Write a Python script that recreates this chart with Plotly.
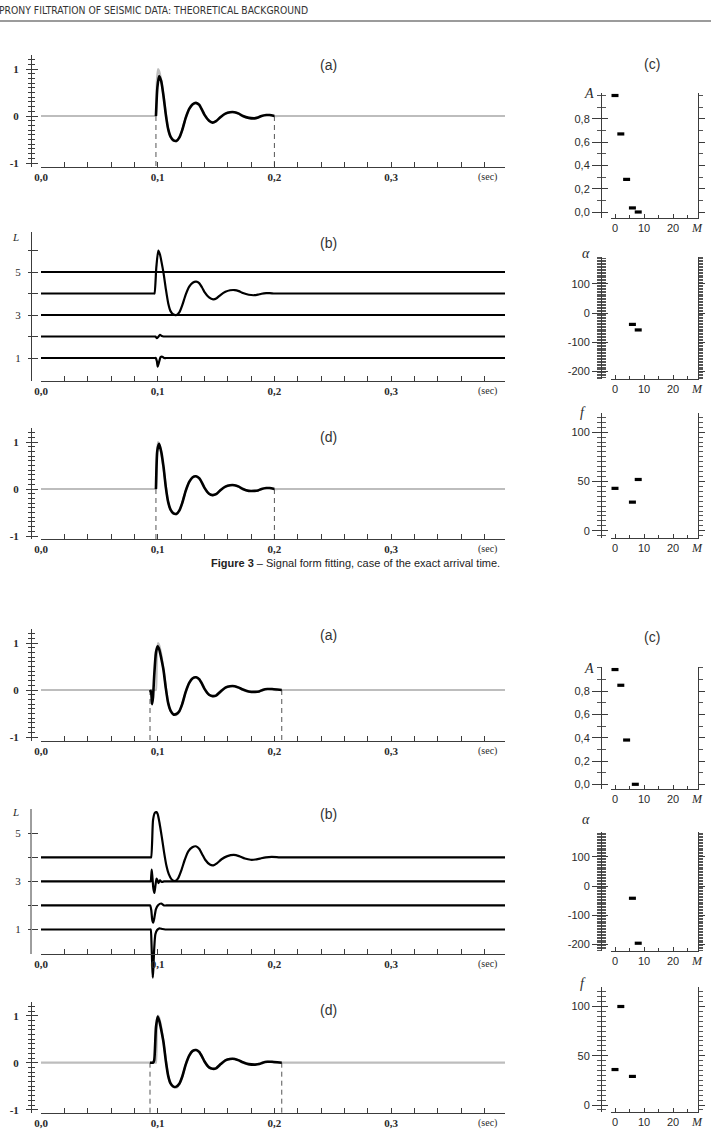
import plotly.graph_objects as go

W, H = 711, 1129

# ---- values ----
X_TICKS = [0.0, 0.1, 0.2, 0.3]
X_TICK_TEXT = ["0,0", "0,1", "0,2", "0,3"]
M_TICKS = [0, 10, 20]
M_TICK_TEXT = ["0", "10", "20"]

# recorded trace (grey), same in every (a) / (d) panel
SRC_T = [0.0, 0.0975, 0.0980, 0.0985, 0.0993, 0.1003, 0.1013, 0.1030, 0.1045, 0.1060,
         0.1075, 0.1090, 0.1110, 0.1135, 0.1160, 0.1185, 0.1210, 0.1240, 0.1270, 0.1300,
         0.1330, 0.1355, 0.1380, 0.1400, 0.1440, 0.1470, 0.1500, 0.1540, 0.1580, 0.1620,
         0.1658, 0.1695, 0.1730, 0.1780, 0.1830, 0.1860, 0.1890, 0.1930, 0.1960, 0.2000,
         0.2050, 0.2500, 0.3000, 0.3500, 0.4000]
SRC_V = [0.0, 0.0, 0.0, 0.0, 0.75, 1.00, 0.95, 0.76, 0.52, 0.25,
         -0.03, -0.28, -0.44, -0.52, -0.53, -0.46, -0.30, -0.04, 0.15, 0.25,
         0.27, 0.23, 0.13, 0.03, -0.10, -0.13, -0.11, -0.02, 0.05, 0.08,
         0.08, 0.05, 0.00, -0.04, -0.04, -0.03, 0.00, 0.02, 0.02, 0.00,
         0.0, 0.0, 0.0, 0.0, 0.0]

# upper figure (Figure 3): exact arrival time
UP_WINDOW = [0.0985, 0.2]
UP_FIT_T = [0.0985, 0.0997, 0.1012, 0.1030, 0.1050, 0.1070, 0.1090, 0.1110, 0.1135, 0.1160,
            0.1185, 0.1210, 0.1240, 0.1270, 0.1300, 0.1328, 0.1355, 0.1380, 0.1400, 0.1440,
            0.1470, 0.1500, 0.1540, 0.1580, 0.1620, 0.1658, 0.1695, 0.1730, 0.1780, 0.1830,
            0.1860, 0.1890, 0.1930, 0.1960, 0.2000]
UP_A_FIT = [0.00, 0.60, 0.85, 0.74, 0.42, 0.02, -0.28, -0.44, -0.52, -0.53,
            -0.46, -0.30, -0.04, 0.15, 0.25, 0.28, 0.24, 0.13, 0.03, -0.10,
            -0.14, -0.11, -0.02, 0.05, 0.08, 0.08, 0.05, 0.00, -0.04, -0.05,
            -0.03, 0.00, 0.02, 0.02, 0.00]
UP_D_FIT = [0.00, 0.82, 0.96, 0.80, 0.47, 0.03, -0.28, -0.44, -0.52, -0.53,
            -0.46, -0.30, -0.04, 0.15, 0.25, 0.27, 0.23, 0.13, 0.03, -0.10,
            -0.13, -0.11, -0.02, 0.05, 0.08, 0.08, 0.05, 0.00, -0.04, -0.04,
            -0.03, 0.00, 0.02, 0.02, 0.00]

UP_B_T = [0.0, 0.0965, 0.0972, 0.0988, 0.1005, 0.1020, 0.1035, 0.1050, 0.1070, 0.1090,
          0.1110, 0.1135, 0.1161, 0.1185, 0.1210, 0.1240, 0.1270, 0.1300, 0.1330, 0.1355,
          0.1380, 0.1400, 0.1440, 0.1475, 0.1505, 0.1540, 0.1580, 0.1620, 0.1660, 0.1695,
          0.1730, 0.1780, 0.1830, 0.1860, 0.1890, 0.1930, 0.1960, 0.2000, 0.2030, 0.4000]
UP_B_L4 = [4.0, 4.0, 4.0, 5.2, 6.0, 5.8, 5.4, 4.95, 4.2, 3.55,
           3.18, 3.02, 3.0, 3.12, 3.45, 3.95, 4.32, 4.50, 4.55, 4.48,
           4.28, 4.08, 3.82, 3.73, 3.78, 3.94, 4.08, 4.15, 4.16, 4.11,
           4.02, 3.94, 3.92, 3.95, 3.99, 4.02, 4.02, 4.0, 4.0, 4.0]
FLAT_T = [0.0, 0.4]
UP_B_L5 = [5, 5]
UP_B_L3 = [3, 3]
UP_B_L2_T = [0.0, 0.0975, 0.0980, 0.0992, 0.1005, 0.1020, 0.1035, 0.1050, 0.1065, 0.4]
UP_B_L2 = [2.0, 2.0, 2.0, 1.92, 1.98, 2.08, 2.02, 2.0, 2.0, 2.0]
UP_B_L1_T = [0.0, 0.0978, 0.0983, 0.0993, 0.1000, 0.1010, 0.1025, 0.1040, 0.1055, 0.1075, 0.4]
UP_B_L1 = [1.0, 1.0, 1.0, 0.85, 0.6, 0.78, 1.04, 1.06, 1.0, 1.0, 1.0]

UP_M_A = [0, 2, 4, 6, 8]
UP_A = [1.0, 0.67, 0.28, 0.035, 0.0]
UP_M_ALPHA = [6, 8]
UP_ALPHA = [-39, -58]
UP_M_F = [0, 6, 8]
UP_F = [43, 29, 52]

# lower figure: window starts before the arrival
LO_WINDOW = [0.0934, 0.2063]
LO_FIT_T = [0.0934, 0.0944, 0.0952, 0.0960, 0.0970, 0.0985, 0.1000, 0.1015, 0.1030, 0.1050,
            0.1070, 0.1090, 0.1110, 0.1135, 0.1160, 0.1185, 0.1210, 0.1240, 0.1270, 0.1300,
            0.1330, 0.1355, 0.1380, 0.1400, 0.1440, 0.1470, 0.1500, 0.1540, 0.1580, 0.1620,
            0.1660, 0.1695, 0.1730, 0.1780, 0.1835, 0.1870, 0.1900, 0.1940, 0.1980, 0.2025,
            0.2063]
LO_A_FIT = [0.00, -0.05, -0.30, -0.15, 0.30, 0.80, 0.93, 0.85, 0.68, 0.42,
            0.03, -0.28, -0.44, -0.52, -0.51, -0.45, -0.30, -0.04, 0.15, 0.25,
            0.27, 0.23, 0.13, 0.03, -0.10, -0.13, -0.12, -0.03, 0.05, 0.08,
            0.08, 0.05, 0.01, -0.03, -0.04, -0.03, 0.00, 0.02, 0.02, 0.01,
            0.00]
LO_D_FIT = [0.00, 0.00, 0.00, 0.00, 0.05, 0.75, 0.98, 0.88, 0.70, 0.43,
            0.03, -0.28, -0.44, -0.51, -0.51, -0.45, -0.30, -0.04, 0.15, 0.25,
            0.27, 0.23, 0.13, 0.03, -0.10, -0.13, -0.12, -0.03, 0.05, 0.08,
            0.08, 0.05, 0.01, -0.03, -0.04, -0.03, 0.00, 0.02, 0.02, 0.01,
            0.00]

LO_B_T = [0.0, 0.0935, 0.0943, 0.0960, 0.0975, 0.0990, 0.1000, 0.1015, 0.1035, 0.1055,
          0.1075, 0.1095, 0.1120, 0.1152, 0.1177, 0.1202, 0.1232, 0.1262, 0.1297, 0.1327,
          0.1357, 0.1382, 0.1407, 0.1447, 0.1477, 0.1507, 0.1547, 0.1597, 0.1652, 0.1697,
          0.1747, 0.1797, 0.1837, 0.1877, 0.1927, 0.1977, 0.2045, 0.2075, 0.4000]
LO_B_L4 = [4.0, 4.0, 4.0, 5.55, 5.85, 5.88, 5.80, 5.45, 4.85, 4.20,
           3.65, 3.30, 3.08, 3.02, 3.15, 3.45, 3.90, 4.25, 4.42, 4.46,
           4.35, 4.12, 3.90, 3.70, 3.67, 3.75, 3.92, 4.05, 4.10, 4.05,
           3.95, 3.90, 3.91, 3.95, 4.00, 4.02, 4.00, 4.00, 4.00]
LO_B_L3_T = [0.0, 0.0935, 0.0940, 0.0945, 0.0949, 0.0955, 0.0963, 0.0972, 0.0981, 0.0990,
             0.0998, 0.1007, 0.1020, 0.1035, 0.1055, 0.1075, 0.4]
LO_B_L3 = [3.0, 3.0, 3.0, 3.25, 3.49, 3.15, 2.7, 2.52, 2.85, 3.12,
           3.05, 2.93, 3.04, 2.98, 3.0, 3.0, 3.0]
LO_B_L2_T = [0.0, 0.0930, 0.0935, 0.0945, 0.0953, 0.0961, 0.0970, 0.0985, 0.1005, 0.1030,
             0.1055, 0.1075, 0.4]
LO_B_L2 = [2.0, 2.0, 2.0, 1.8, 1.4, 1.28, 1.45, 1.85, 2.02, 2.08, 2.0, 2.0, 2.0]
LO_B_L1_T = [0.0, 0.0935, 0.0940, 0.0947, 0.0953, 0.0958, 0.0963, 0.0970, 0.0980, 0.0995,
             0.1015, 0.1040, 0.1065, 0.1085, 0.4]
LO_B_L1 = [1.0, 1.0, 1.0, 0.4, -0.5, -1.0, -0.6, 0.2, 0.8, 0.98,
           1.05, 1.02, 1.0, 1.0, 1.0]

LO_M_A = [0, 2, 4, 7]
LO_A = [0.985, 0.85, 0.38, 0.0]
LO_M_ALPHA = [6, 8]
LO_ALPHA = [-42, -196]
LO_M_F = [0, 2, 6]
LO_F = [36, 100, 29]

HEADER = "PRONY FILTRATION OF SEISMIC DATA: THEORETICAL BACKGROUND"
CAPTION = "<b>Figure 3</b> – Signal form fitting, case of the exact arrival time."

# ---- styling ----
SERIF = "Liberation Serif"
SANS = "Liberation Sans"
NARROW = "DejaVu Sans Condensed, Liberation Sans Narrow, Liberation Sans"
AXC = "#3c3c3c"
TXT = "#2a2a2a"
GREY = "#bdbdbd"
T_RANGE = [0, 0.3976]


def px(x):
    return x / W


def py(y):
    return 1 - y / H


layout = {}
traces = []
annotations = []
shapes = []
counter = {"x": 0, "y": 0}


def next_axis(kind):
    counter[kind] += 1
    n = counter[kind]
    suffix = "" if n == 1 else str(n)
    return kind + suffix, kind + "axis" + suffix


def note(text, x, y, size=11, family=SANS, color=TXT, xanchor="center", xref="paper", yref="paper"):
    annotations.append(dict(text=text, x=x, y=y, xref=xref, yref=yref, showarrow=False,
                            xanchor=xanchor, yanchor="middle",
                            font=dict(family=family, size=size, color=color)))


def wave_panel(top, bot, ref_px, ref_val, ppu, yvals, ytext, major_len, minor_dtick, bold, axis_px=None):
    xr, xname = next_axis("x")
    yr, yname = next_axis("y")
    yo, yoname = next_axis("y")
    vtop = ref_val + (ref_px - top) / ppu
    vbot = ref_val - (bot - ref_px) / ppu
    free = axis_px is not None
    axis_px = bot if axis_px is None else axis_px
    vaxis = ref_val - (axis_px - ref_px) / ppu
    layout[xname] = dict(
        domain=[px(41), px(505)], range=T_RANGE, automargin=False,
        anchor="free" if free else yr, position=py(axis_px) if free else 0,
        showline=True, linecolor=AXC, linewidth=1,
        ticks="inside", ticklen=5, tickcolor=AXC,
        tickvals=X_TICKS, ticktext=X_TICK_TEXT,
        tickfont=dict(family=SERIF, size=11, color=TXT, weight="bold"),
        minor=dict(tickmode="linear", tick0=0, dtick=0.02, ticks="inside", ticklen=5, tickcolor=AXC),
        showgrid=False, zeroline=False,
    )
    minor_out = dict(tickmode="linear", tick0=0, dtick=minor_dtick, ticks="outside",
                     ticklen=3, tickcolor=AXC) if minor_dtick else dict(ticks="")
    minor_in = dict(tickmode="linear", tick0=0, dtick=minor_dtick, ticks="inside",
                    ticklen=3, tickcolor=AXC) if minor_dtick else dict(ticks="")
    layout[yname] = dict(
        domain=[py(bot), py(top)], range=[vbot, vtop], automargin=False,
        anchor="free", position=px(31),
        showline=not free, linecolor=AXC, linewidth=1,
        ticks="outside", ticklen=major_len[0], tickcolor=AXC,
        tickvals=yvals, ticktext=ytext, ticklabelstandoff=5,
        tickfont=dict(family=SERIF, size=11, color=TXT, weight="bold" if bold else "normal"),
        minor=minor_out, showgrid=False, zeroline=False,
    )
    layout[yoname] = dict(
        overlaying=yr, range=[vbot, vtop], anchor="free", position=px(31), automargin=False,
        showline=False, ticks="inside", ticklen=major_len[1], tickcolor=AXC,
        tickvals=yvals, showticklabels=False,
        minor=minor_in, showgrid=False, zeroline=False,
    )
    if free:
        shapes.append(dict(type="line", xref="paper", yref=yr, x0=px(31), x1=px(31),
                           y0=vaxis, y1=vtop, line=dict(color=AXC, width=1)))
    note("(sec)", 0.383, py(axis_px + 10), size=10, family=SERIF, xref=xr)
    return xr, yr, yo, vaxis


def param_panel(top, bot, ref_px, ref_val, ppu, yvals, ytext, minor_dtick, minor_w, axis_px):
    xr, xname = next_axis("x")
    yr, yname = next_axis("y")
    yo, yoname = next_axis("y")
    yrr, yrname = next_axis("y")
    vtop = ref_val + (ref_px - top) / ppu
    vbot = ref_val - (bot - ref_px) / ppu
    layout[xname] = dict(
        domain=[px(611), px(698)], range=[-1.38, 28.6], anchor=yr, automargin=False,
        showline=True, linecolor=AXC, linewidth=1,
        ticks="inside", ticklen=4, tickcolor=AXC,
        tickvals=M_TICKS, ticktext=M_TICK_TEXT,
        tickfont=dict(family=SANS, size=11, color=TXT),
        minor=dict(tickmode="linear", tick0=0, dtick=5, ticks="inside", ticklen=3, tickcolor=AXC),
        showgrid=False, zeroline=False,
    )
    common = dict(range=[vbot, vtop], tickvals=yvals, showgrid=False, zeroline=False,
                  tickcolor=AXC, automargin=False)

    def minor(side, length):
        return dict(tickmode="linear", tick0=0, dtick=minor_dtick, ticks=side, ticklen=length,
                    tickcolor="#555555", tickwidth=minor_w)

    layout[yname] = dict(
        domain=[py(bot), py(top)], anchor="free", position=px(601),
        showline=True, linecolor=AXC, linewidth=1,
        ticks="outside", ticklen=9, ticktext=ytext,
        tickfont=dict(family=SANS, size=11, color=TXT),
        minor=minor("outside", 4), **common,
    )
    layout[yoname] = dict(
        overlaying=yr, anchor="free", position=px(601), showline=False,
        ticks="inside", ticklen=6, showticklabels=False,
        minor=minor("inside", 4), **common,
    )
    layout[yrname] = dict(
        overlaying=yr, anchor=xr, side="right", showline=True, linecolor=AXC, linewidth=1,
        ticks="outside", ticklen=6, showticklabels=False,
        minor=minor("outside", 4), **common,
    )
    note("<i>M</i>", px(697), py(axis_px + 10), size=12, family=SERIF)
    return xr, yr, [yo, yrr]


def line(x, y, xr, yr, color="black", width=2.4, dash=None, shape="spline"):
    traces.append(go.Scatter(x=x, y=y, xaxis=xr, yaxis=yr, mode="lines",
                             line=dict(color=color, width=width, dash=dash, shape=shape, smoothing=0.6),
                             hoverinfo="skip"))


def ghost(x, y, xr, yr):
    # keeps overlay axes alive; draws nothing visible
    traces.append(go.Scatter(x=x, y=y, xaxis=xr, yaxis=yr, mode="lines",
                             line=dict(color="rgba(0,0,0,0)", width=0), hoverinfo="skip"))


def dots(x, y, xr, yr):
    traces.append(go.Scatter(x=x, y=y, xaxis=xr, yaxis=yr, mode="markers",
                             marker=dict(symbol="line-ew", size=5, color="black",
                                         line=dict(color="black", width=3.2)),
                             hoverinfo="skip"))


def signal_panel(top, bot, zero_px, fit_t, fit_v, window):
    xr, yr, yo, vaxis = wave_panel(top, bot, zero_px, 0, 47, [-1, 0, 1], ["-1", "0", "1"],
                                   (5, 6), 0.1, True)
    line(SRC_T, SRC_V, xr, yr, color=GREY, width=2.2)
    ghost(SRC_T, SRC_V, xr, yo)
    for w in window:
        traces.append(go.Scatter(x=[w, w], y=[0, vaxis], xaxis=xr, yaxis=yr, mode="lines",
                                 line=dict(color="#555", width=1, dash="5px,4px"), hoverinfo="skip"))
    line(fit_t, fit_v, xr, yr, width=2.6)


def components_panel(top, bot, ref_px, ppu, yvals, ytext, curves, axis_px=None):
    xr, yr, yo, vaxis = wave_panel(top, bot, ref_px, 5, ppu, yvals, ytext, (3, 6), None, False,
                                   axis_px=axis_px)
    ghost(FLAT_T, [5, 5], xr, yo)
    for t, v in curves:
        line(t, v, xr, yr, width=2.2)
    return vaxis


def params(geo, a_data, alpha_data, f_data):
    (a_top, a_bot, a_zero), (al_top, al_bot, al_zero), (f_top, f_bot, f_zero) = geo
    xr, yr, over = param_panel(a_top, a_bot, a_zero, 0, 116.5, [0, 0.2, 0.4, 0.6, 0.8],
                               ["0,0", "0,2", "0,4", "0,6", "0,8"], 0.1, 1, a_bot)
    dots(*a_data, xr, yr)
    for o in over:
        ghost(*a_data, xr, o)
    xr, yr, over = param_panel(al_top, al_bot, al_zero, 0, 0.292, [-200, -100, 0, 100],
                               ["-200", "-100", "0", "100"], 5, 0.6, al_bot)
    dots(*alpha_data, xr, yr)
    for o in over:
        ghost(*alpha_data, xr, o)
    xr, yr, over = param_panel(f_top, f_bot, f_zero, 0, 0.985, [0, 50, 100],
                               ["0", "50", "100"], 5, 1, f_bot)
    dots(*f_data, xr, yr)
    for o in over:
        ghost(*f_data, xr, o)


# ---------- upper figure ----------
signal_panel(55, 167, 116, UP_FIT_T, UP_A_FIT, UP_WINDOW)
components_panel(232, 381, 272, 21.5, [1, 2, 3, 4, 5, 6], ["1", "", "3", "", "5", ""],
                 [(FLAT_T, UP_B_L5), (UP_B_T, UP_B_L4), (FLAT_T, UP_B_L3),
                  (UP_B_L2_T, UP_B_L2), (UP_B_L1_T, UP_B_L1)])
signal_panel(428, 539, 489, UP_FIT_T, UP_D_FIT, UP_WINDOW)
params([(93, 218, 212), (257, 379, 313), (413, 538, 530.7)],
       (UP_M_A, UP_A), (UP_M_ALPHA, UP_ALPHA), (UP_M_F, UP_F))

# ---------- lower figure ----------
signal_panel(629, 741, 690, LO_FIT_T, LO_A_FIT, LO_WINDOW)
components_panel(809, 985, 833.3, 24.05, [1, 2, 3, 4, 5], ["1", "", "3", "", "5"],
                 [(LO_B_T, LO_B_L4), (LO_B_L3_T, LO_B_L3),
                  (LO_B_L2_T, LO_B_L2), (LO_B_L1_T, LO_B_L1)], axis_px=954)
signal_panel(1002, 1113, 1062.7, LO_FIT_T, LO_D_FIT, LO_WINDOW)
params([(667, 789, 784.3), (832, 951, 886), (987, 1112, 1105)],
       (LO_M_A, LO_A), (LO_M_ALPHA, LO_ALPHA), (LO_M_F, LO_F))

# ---------- texts ----------
note(HEADER, px(-3), py(10), size=10.3, family=NARROW, color="#333", xanchor="left")
shapes.append(dict(type="line", xref="paper", yref="paper", x0=0, x1=1, y0=py(21), y1=py(21),
                   line=dict(color="#7a7a7a", width=1.5)))
note(CAPTION, px(355), py(563), size=11, family=SANS, color="#222")

for lab, y in [("(a)", 65), ("(b)", 243), ("(d)", 437), ("(a)", 635), ("(b)", 814), ("(d)", 1010)]:
    note(lab, px(328), py(y), size=14, color="#333")
for y in (64, 637):
    note("(c)", px(652), py(y), size=14, color="#333")
for y in (237, 812):
    note("<i>L</i>", px(15), py(y), size=11, family=SERIF)
for lab, x, y in [("A", 589, 94), ("α", 586, 254), ("f", 583, 412),
                  ("A", 589, 668), ("α", 586, 819), ("f", 583, 984)]:
    note("<i>%s</i>" % lab, px(x), py(y), size=14, family=SERIF)

fig = go.Figure(data=traces)
fig.update_layout(
    width=W, height=H,
    margin=dict(l=0, r=0, t=0, b=0, autoexpand=False),
    paper_bgcolor="white", plot_bgcolor="rgba(0,0,0,0)",
    showlegend=False,
    annotations=annotations, shapes=shapes,
    **layout,
)
fig.write_html("out.html", config={"displayModeBar": False},
               post_script="document.body.style.margin='0';document.body.style.overflow='hidden';")
